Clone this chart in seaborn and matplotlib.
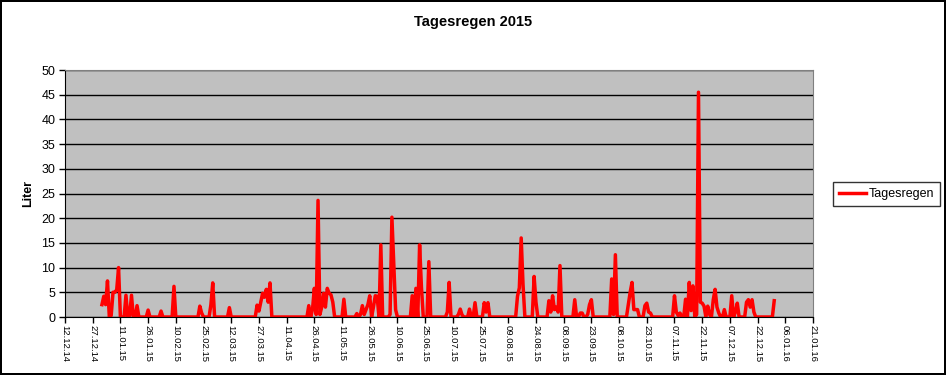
import matplotlib
matplotlib.use("Agg")
import matplotlib.pyplot as plt
import matplotlib.dates as mdates
import seaborn as sns
import pandas as pd

# Tagesregen 2015, tag_nr = Tage ab 01.01.2015 (nur Tage mit Regen, Rest = 0)
tag_nr = [0, 1, 2, 3, 5, 6, 7, 8, 9, 13, 15, 16, 19, 25, 32, 39, 53, 54, 59, 60, 69,
          84, 85, 86, 87, 88, 89, 90, 91, 112, 114, 115, 116, 117, 118, 119, 120, 121,
          122, 123, 124, 125, 131, 138, 140, 141, 142, 143, 144, 145, 147, 148, 149,
          151, 156, 157, 158, 159, 168, 170, 172, 173, 177, 187, 188, 193, 194, 195,
          199, 202, 207, 208, 209, 225, 226, 227, 228, 234, 235, 242, 243, 244, 245,
          246, 247, 248, 256, 259, 260, 263, 264, 265, 276, 277, 278, 285, 286, 287,
          288, 289, 290, 294, 295, 296, 297, 310, 311, 312, 313, 316, 318, 319, 320,
          322, 323, 324, 325, 326, 328, 329, 331, 332, 333, 334, 337, 341, 343, 344,
          349, 350, 351, 352, 353, 364]
liter = [2.5, 4.2, 2.5, 7.3, 0.3, 5, 5, 5.5, 10, 4.4, 0.3, 4.4, 2.3, 1.4, 1.2, 6.2, 2.2, 0.8, 2.5, 6.9, 1.9,
         2.4, 1.2, 3, 4.8, 4, 5.6, 3, 6.9, 2.3, 1.5, 5.8, 0.5, 23.6, 0.5, 2, 4.8, 2,
         5.8, 4.8, 4.5, 3, 3.6, 0.7, 0.5, 2.3, 0.5, 1.5, 2.5, 4.3, 2, 4.3, 4.2,
         14.6, 0.5, 20.2, 11, 1.5, 4.3, 5.8, 14.6, 6, 11.2, 1, 7, 0.5, 1.6, 0.4,
         1.6, 2.9, 2.9, 1, 2.9, 4.2, 5.9, 16, 6.5, 8.2, 3, 3.3, 1, 4.3, 1.5,
         2, 1, 10.4, 3.5, 0.8, 0.8, 0.5, 2.5, 3.5, 7.7, 0.5, 12.6, 2.5, 5, 7,
         1.5, 1.5, 1.5, 2.3, 2.8, 1, 0.8, 4.3, 1, 0.3, 0.8, 3.6, 7, 1.3, 6.3,
         0.5, 45.5, 3, 2.8, 2.2, 2.2, 0.5, 3.5, 5.6, 2, 0.8, 1.5, 4.3, 1, 2.8,
         3, 3.5, 2, 3.5, 1, 3.3]

y_ticks = list(range(0, 55, 5))

tage = pd.date_range("2015-01-01", "2015-12-31", freq="D")
regen = pd.Series(0.0, index=tage)
regen.iloc[tag_nr] = liter
df = pd.DataFrame({"Datum": tage, "Tagesregen": regen.values})

plt.rcParams["font.family"] = ["Liberation Sans", "DejaVu Sans"]

fig = plt.figure(figsize=(9.46, 3.75), dpi=100, facecolor="white",
                 edgecolor="black", linewidth=1.5)
ax = fig.add_axes([65 / 946, 1 - 317 / 375, (813 - 65) / 946, (317 - 70) / 375])
ax.set_facecolor("#c0c0c0")

sns.lineplot(data=df, x="Datum", y="Tagesregen", color="#ff0000", lw=2.5,
             ax=ax, label="Tagesregen", legend=False)

ax.set_ylim(0, 50)
ax.set_yticks(y_ticks)
ax.set_xlim(pd.Timestamp("2014-12-12"), pd.Timestamp("2016-01-21"))
ax.set_xticks(pd.date_range("2014-12-12", "2016-01-21", freq="15D"))
ax.xaxis.set_major_formatter(mdates.DateFormatter("%d.%m.%y"))
ax.grid(axis="y", color="black", lw=1)
ax.set_axisbelow(True)

ax.tick_params(axis="y", labelsize=9, length=4, width=1, color="black", pad=3)
ax.tick_params(axis="x", labelsize=6.8, length=4, width=1, color="black",
               labelrotation=270, pad=2)
for lab in ax.get_xticklabels():
    lab.set_verticalalignment("top")
    lab.set_horizontalalignment("center")

ax.spines["left"].set_color("black")
ax.spines["bottom"].set_color("black")
ax.spines["top"].set_color("#808080")
ax.spines["right"].set_color("#808080")
ax.set_xlabel("")
ax.set_ylabel("")

fig.text(0.5, 1 - 22 / 375, "Tagesregen 2015", ha="center", va="center",
         fontsize=10.5, fontweight="bold")
fig.text(28 / 946, 1 - 193 / 375, "Liter", ha="center", va="center",
         rotation=90, fontsize=9, fontweight="bold")

leg = fig.legend(loc="center left", bbox_to_anchor=(833 / 946, 1 - 194 / 375),
                 fontsize=9, frameon=True, fancybox=False, edgecolor="black",
                 handlelength=2.2, borderpad=0.45, handletextpad=0.2,
                 borderaxespad=0)
leg.get_frame().set_linewidth(1)

fig.savefig("out.png", dpi=100, facecolor="white", edgecolor="black")
